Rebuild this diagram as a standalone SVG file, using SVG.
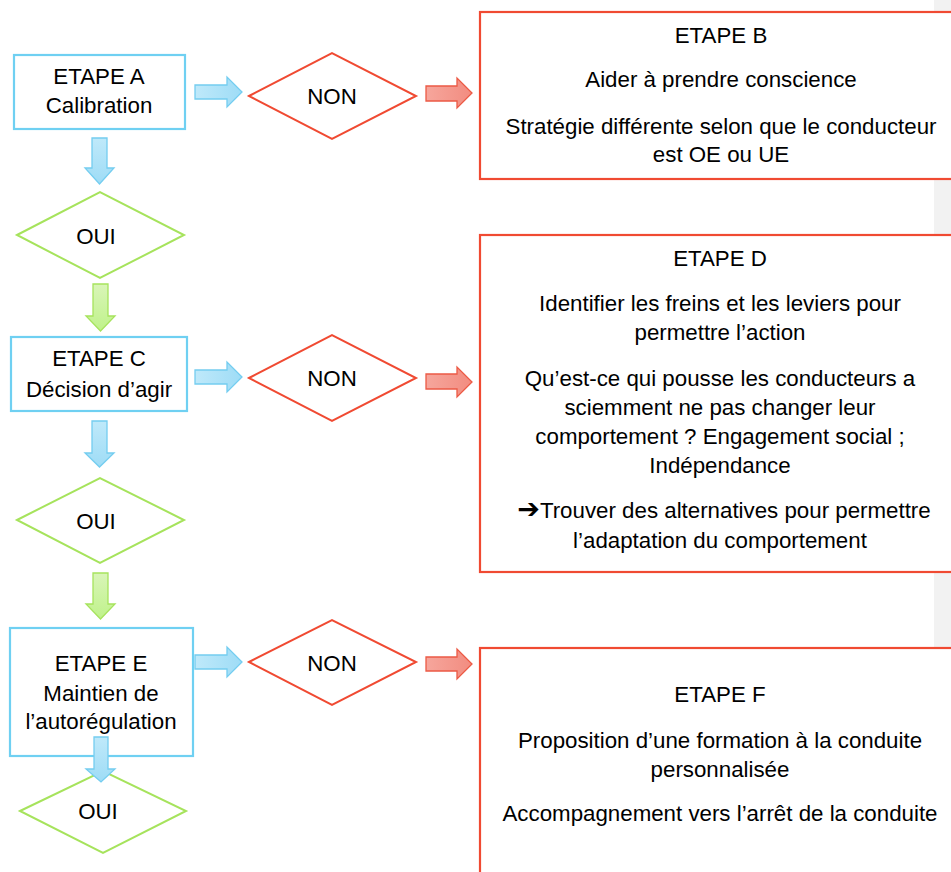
<svg xmlns="http://www.w3.org/2000/svg" width="951" height="872" viewBox="0 0 951 872">
<defs>
<linearGradient id="gb" x1="0" y1="0" x2="0" y2="1"><stop offset="0" stop-color="#bfe9fa"/><stop offset="1" stop-color="#9edcf6"/></linearGradient>
<linearGradient id="gbh" x1="0" y1="0" x2="1" y2="0"><stop offset="0" stop-color="#bfe9fa"/><stop offset="1" stop-color="#9edcf6"/></linearGradient>
<linearGradient id="gg" x1="0" y1="0" x2="0" y2="1"><stop offset="0" stop-color="#d9f5b8"/><stop offset="1" stop-color="#bff28a"/></linearGradient>
<linearGradient id="gr" x1="0" y1="0" x2="1" y2="0"><stop offset="0" stop-color="#f6a69c"/><stop offset="1" stop-color="#f28c80"/></linearGradient>
</defs>
<style>
text{font-family:"Liberation Sans",Arial,sans-serif;font-size:22.3px;fill:#000;text-anchor:middle}
.bbox{fill:#fff;stroke:#6fd0f2;stroke-width:2.2}
.rbox{fill:#fff;stroke:#f04a32;stroke-width:2.2}
.rdia{fill:#fff;stroke:#f04a32;stroke-width:2}
.gdia{fill:#fff;stroke:#a6e35c;stroke-width:2}
.ab{fill:url(#gb);stroke:#74cdf0;stroke-width:1.3}
.abh{fill:url(#gbh);stroke:#74cdf0;stroke-width:1.3}
.ag{fill:url(#gg);stroke:#a6e35c;stroke-width:1.3}
.ar{fill:url(#gr);stroke:#ec5a45;stroke-width:1.3}
</style>
<rect x="0" y="0" width="951" height="872" fill="#fff"/>
<rect x="934" y="0" width="17" height="872" fill="#f2f2f2"/>

<g id="etapeA"><rect class="bbox" x="14" y="55" width="171" height="74"/><text x="99" y="84">ETAPE A</text><text x="99" y="113">Calibration</text></g>
<g id="non1"><polygon class="rdia" points="249,96 332,53 416,96 332,139"/><text x="332" y="104">NON</text></g>
<g id="etapeB"><rect class="rbox" x="480" y="12" width="500" height="167"/>
<text x="721" y="43">ETAPE B</text>
<text x="721" y="87">Aider à prendre conscience</text>
<text x="721" y="134">Stratégie différente selon que le conducteur</text>
<text x="721" y="162">est OE ou UE</text></g>
<g id="oui1"><polygon class="gdia" points="17,235 100,192 184,235 100,278"/><text x="96" y="244">OUI</text></g>

<g id="etapeC"><rect class="bbox" x="11" y="337" width="176" height="74"/><text x="99" y="366">ETAPE C</text><text x="99" y="397">Décision d’agir</text></g>
<g id="non2"><polygon class="rdia" points="249,378 332,335 416,378 332,421"/><text x="332" y="386">NON</text></g>
<g id="etapeD"><rect class="rbox" x="480" y="235" width="500" height="337"/>
<text x="720" y="266">ETAPE D</text>
<text x="720" y="311">Identifier les freins et les leviers pour</text>
<text x="720" y="340">permettre l’action</text>
<text x="720" y="386">Qu’est-ce qui pousse les conducteurs a</text>
<text x="720" y="415">sciemment ne pas changer leur</text>
<text x="720" y="444">comportement ? Engagement social ;</text>
<text x="720" y="473">Indépendance</text>
<text x="724" y="518"><tspan font-family="'DejaVu Sans',sans-serif" font-weight="bold" font-size="27">➔</tspan>Trouver des alternatives pour permettre</text>
<text x="720" y="548">l’adaptation du comportement</text></g>
<g id="oui2"><polygon class="gdia" points="17,520 100,478 184,520 100,563"/><text x="96" y="529">OUI</text></g>

<g id="etapeE"><rect class="bbox" x="10" y="628" width="183" height="128"/><text x="101" y="671">ETAPE E</text><text x="101" y="701">Maintien de</text><text x="101" y="729">l’autorégulation</text></g>
<g id="non3"><polygon class="rdia" points="249,662 332,620 416,662 332,705"/><text x="332" y="671">NON</text></g>
<g id="etapeF"><rect class="rbox" x="480" y="648" width="500" height="260"/>
<text x="720" y="702">ETAPE F</text>
<text x="720" y="748">Proposition d’une formation à la conduite</text>
<text x="720" y="777">personnalisée</text>
<text x="720" y="821">Accompagnement vers l’arrêt de la conduite</text></g>
<g id="oui3"><polygon class="gdia" points="20,811 103,771 186,811 103,853"/><text x="98" y="819">OUI</text></g>

<g id="connectors">
<polygon class="abh" points="195,85 227,85 227,77 242,92 227,107 227,99 195,99"/>
<polygon class="abh" points="195,370 227,370 227,362 242,377 227,392 227,384 195,384"/>
<polygon class="abh" points="195,655 227,655 227,647 242,662 227,677 227,669 195,669"/>
<polygon class="ar" points="426,86 457,86 457,78 472,93 457,108 457,101 426,101"/>
<polygon class="ar" points="426,374 457,374 457,367 472,382 457,397 457,389 426,389"/>
<polygon class="ar" points="426,657 457,657 457,649 472,664 457,679 457,671 426,671"/>
<polygon class="ab" points="92,138 107,138 107,168 114,168 99.5,184 85,168 92,168"/>
<polygon class="ab" points="92,421 107,421 107,453 114,453 99.5,467 85,453 92,453"/>
<polygon class="ab" points="94,737 108,737 108,769 115,769 101,782 86,769 94,769"/>
<polygon class="ag" points="93,284 108,284 108,316 115,316 100.5,331 86,316 93,316"/>
<polygon class="ag" points="93,573 108,573 108,604 115,604 100.5,619 86,604 93,604"/>
</g>
</svg>
